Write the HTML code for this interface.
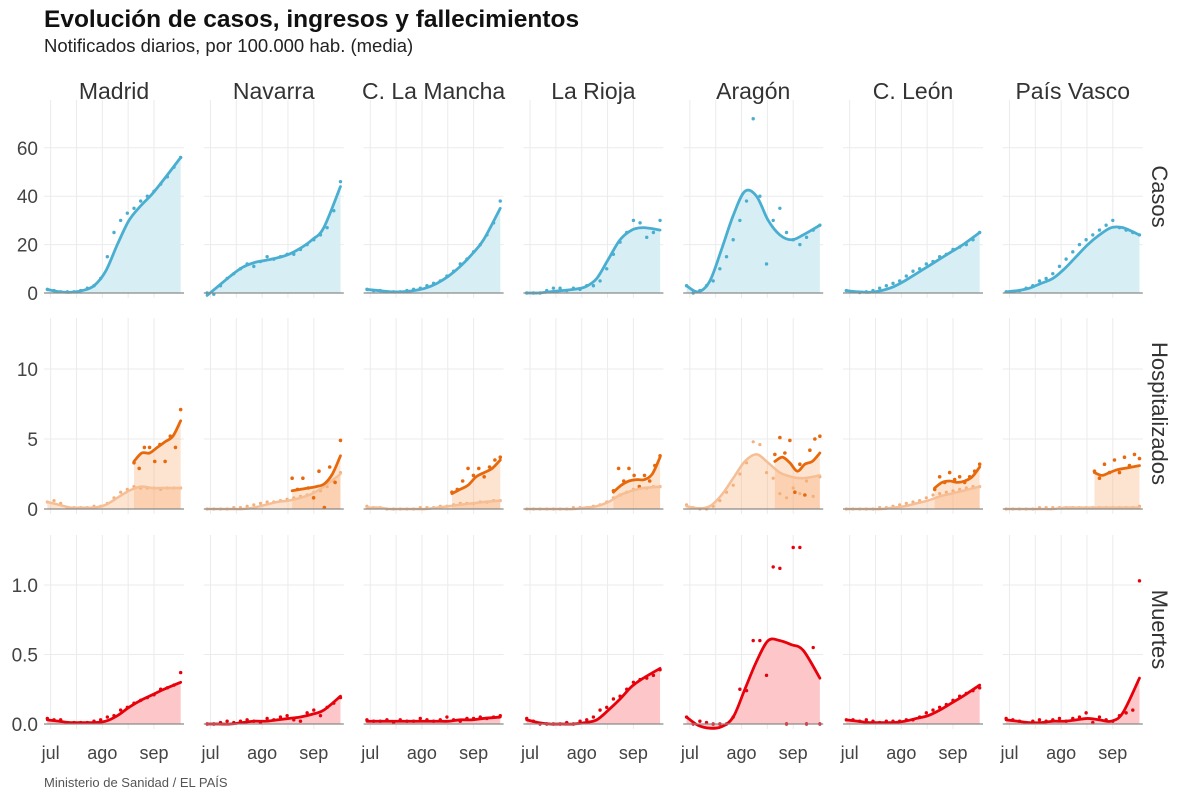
<!DOCTYPE html>
<html><head><meta charset="utf-8"><style>
body{margin:0;background:#fff;}
svg{display:block;font-family:"Liberation Sans",sans-serif;}
</style></head><body>
<svg id="chart" width="1200" height="800" viewBox="0 0 1200 800">
<text x="44" y="27" font-size="24.5" font-weight="bold" fill="#111">Evolución de casos, ingresos y fallecimientos</text>
<text x="44" y="52" font-size="18.5" fill="#222">Notificados diarios, por 100.000 hab. (media)</text>
<text x="44" y="787" font-size="13" fill="#555">Ministerio de Sanidad / EL PAÍS</text>
<g id="plot"></g>
</svg>
<script>
const regions = ["Madrid","Navarra","C. La Mancha","La Rioja","Aragón","C. León","País Vasco"];
const smoothDays = [-2,5,12,19,26,33,40,47,54,61,68,78];
const dotDays = [-2,2,6,10,14,18,22,26,30,34,38,42,46,50,54,58,62,66,70,74,78];
const monthTicks = [0,31,62];
const monthLabels = ["jul","ago","sep"];
const rowNames = ["Casos","Hospitalizados","Muertes"];
const casosTicks = [0,20,40,60];
const hospTicks = [0,5,10];
const muertesTicks = [0,0.5,1.0];
const muertesTickLabels = ["0.0","0.5","1.0"];

const casosSmooth = [
 [1.5,0.5,0.3,1,3,9,20,30,36,41,47,56],
 [-1,3,7,10.5,12.5,13.5,14.5,16,18.5,22,27,44],
 [1.5,1,0.5,0.5,1,2,4,7,11,16,22,35],
 [0,0,0.5,1,1.5,2.5,6,14,22,26,27,26],
 [3,0.5,5,18,32,42,40,30,24,22,24,28],
 [1,0.5,0.3,1,2.5,5,8,11,14,17,20,25],
 [0.5,1,2,4,6,10,15,20,24,27,27,24]];
const casosDots = [
 [1.5,1,0.5,0.5,0.5,1,2,3,6,15,25,30,33,35,38,40,42,45,48,52,56],
 [0,-0.5,3,6,8,10,12,11,13,15,14,15,16,16,18,20,22,24,27,34,46],
 [1.5,1,1,0.5,0.5,0.5,1,1.5,2,3,4,5,7,9,12,14,17,20,24,29,38],
 [0,0,0,1,2,2,1,2,1.5,3,3,5,10,16,21,25,30,29,23,25,30],
 [3,0,1,3,5,10,15,22,30,38,72,40,12,30,35,25,22,20,23,26,28],
 [1,0.5,0.2,0.5,1,2,3,4,5,7,9,10,12,13,15,16,18,19,20,22,25],
 [0.5,0.5,1,2,3,5,6,8,11,14,17,20,22,24,26,28,30,27,26,25,24]];
const hospLightSmooth = [
 [0.5,0.3,0.1,0.1,0.1,0.3,0.8,1.3,1.6,1.5,1.5,1.5],
 [0,0,0,0,0.1,0.3,0.5,0.6,0.8,1.1,1.6,2.5],
 [0.1,0.1,0,0,0,0,0.1,0.2,0.3,0.4,0.5,0.6],
 [0,0,0,0,0,0.1,0.2,0.5,1,1.3,1.5,1.6],
 [0.2,0.05,0.2,1.0,2.2,3.4,3.9,3.3,2.6,2.3,2.2,2.4],
 [0,0,0,0,0.1,0.2,0.4,0.6,0.9,1.1,1.3,1.6],
 [0,0,0,0,0,0.1,0.1,0.1,0.1,0.1,0.1,0.1]];
const hospLightDots = [
 [0.5,0.6,0.4,0.1,0.1,0.1,0.1,0.2,0.2,0.4,0.8,1.2,1.4,1.6,1.5,1.5,1.5,1.4,1.5,1.5,1.5],
 [0,0,0,0,0.1,0.1,0.2,0.3,0.4,0.5,0.5,0.6,0.7,0.8,0.9,1.0,1.2,1.3,1.6,2,2.6],
 [0.2,0.1,0.1,0,0,0,0,0,0.1,0.1,0.1,0.2,0.2,0.3,0.4,0.4,0.4,0.5,0.5,0.6,0.6],
 [0,0,0,0,0,0,0,0.1,0.1,0.1,0.2,0.3,0.5,0.8,1,1.2,1.4,1.5,1.5,1.6,1.6],
 [0.3,0.1,0,0,0.2,0.6,1.2,1.7,2.5,3.3,4.8,4.6,2.6,2.2,1.1,0.8,1.5,1.1,2.0,0.9,2.3],
 [0,0,0,0,0,0.1,0.1,0.2,0.3,0.4,0.5,0.6,0.8,1,1.1,1.2,1.3,1.4,1.5,1.6,1.6],
 [0,0,0,0,0,0.1,0.1,0.1,0.1,0.1,0.1,0.1,0.1,0.1,0.1,0.1,0.1,0.1,0.1,0.1,0.2]];
const hospDarkStart = [50,49,49,50,51,51,51];
const hospDarkSmooth = [
 [3.4,4.0,4.0,4.4,4.8,5.2,6.3],
 [1.3,1.4,1.5,1.6,1.8,2.5,3.8],
 [1.1,1.4,1.7,2.3,2.6,2.9,3.5],
 [1.2,1.7,2.0,2.1,2.1,2.5,3.7],
 [3.4,3.7,3.3,2.7,3.2,3.4,4.0],
 [1.5,1.9,2.0,1.9,2.0,2.3,3.0],
 [2.6,2.4,2.6,2.8,2.9,3.0,3.1]];
const hospDarkDots = [
 [3.3,2.9,4.4,4.4,3.4,4.6,3.4,5.2,4.4,7.1],
 [2.2,1.4,2.2,1.5,0.8,2.7,0.1,3.0,1.9,4.9],
 [1.2,1.4,2.0,2.9,2.4,2.9,2.3,3.0,3.5,3.7],
 [1.3,2.9,2.0,2.9,2.4,1.6,2.4,2.0,3.1,3.8],
 [3.9,5.1,4.0,4.9,1.2,3.2,1.0,4.2,5.0,5.2],
 [1.4,2.3,1.9,2.6,2.1,2.3,1.9,2.3,2.7,3.2],
 [2.7,2.2,3.2,2.6,3.5,2.6,3.7,3.1,3.9,3.6]];
const muertesSmooth = [
 [0.03,0.02,0.01,0.01,0.01,0.02,0.06,0.12,0.17,0.21,0.25,0.30],
 [0,0,0,0.01,0.02,0.02,0.03,0.04,0.05,0.07,0.1,0.2],
 [0.02,0.02,0.02,0.02,0.02,0.02,0.02,0.02,0.03,0.03,0.04,0.05],
 [0.03,0.01,0,0,0,0.01,0.03,0.1,0.18,0.27,0.33,0.4],
 [0.05,-0.01,-0.03,-0.02,0.05,0.25,0.45,0.6,0.6,0.57,0.53,0.33],
 [0.03,0.02,0.01,0.01,0.01,0.02,0.04,0.06,0.1,0.15,0.2,0.28],
 [0.03,0.02,0.01,0.01,0.02,0.02,0.03,0.04,0.03,0.02,0.08,0.33]];
const muertesDots = [
 [0.04,0.03,0.03,0.01,0.01,0.01,0.01,0.02,0.03,0.05,0.06,0.1,0.12,0.15,0.17,0.19,0.21,0.25,0.26,0.28,0.37],
 [0,0,0.01,0.02,0.01,0.02,0.03,0.02,0.01,0.04,0.03,0.05,0.06,0.03,0.02,0.08,0.1,0.06,0.12,0.15,0.19],
 [0.03,0.02,0.02,0.03,0.01,0.03,0.02,0.02,0.04,0.03,0.02,0.03,0.05,0.03,0.02,0.04,0.04,0.05,0.04,0.05,0.06],
 [0.04,0.02,0,0,0,0,0.01,0,0.02,0.03,0.05,0.1,0.12,0.18,0.2,0.25,0.3,0.32,0.33,0.35,0.39],
 [0.05,0,0.02,0.01,0,0,0,0.05,0.25,0.24,0.6,0.6,0.35,1.13,1.12,0.0,1.27,1.27,0,0.55,0],
 [0.03,0.03,0.02,0.03,0.02,0.01,0.02,0.02,0.02,0.03,0.03,0.05,0.08,0.1,0.12,0.14,0.17,0.2,0.22,0.24,0.26],
 [0.04,0.03,0.02,0.01,0.02,0.03,0.02,0.03,0.04,0.02,0.04,0.05,0.08,0.01,0.05,0.03,0.02,0.06,0.08,0.1,1.03]];

const NS="http://www.w3.org/2000/svg";
const plot=document.getElementById('plot');
const panelW=140, colStep=159.8, col0=44;
const dayMin=-4, dayMax=80;
const rowsGeo=[{top:100,zero:293,k:2.42},{top:318,zero:509,k:14},{top:535,zero:724,k:139}];
function xs(c,d){return col0+c*colStep+(d-dayMin)/(dayMax-dayMin)*panelW;}
function ys(r,v){return rowsGeo[r].zero-v*rowsGeo[r].k;}
function mk(tag,attrs,parent){const e=document.createElementNS(NS,tag);for(const a in attrs)e.setAttribute(a,attrs[a]);(parent||plot).appendChild(e);return e;}
function smoothPath(pts){let d="M"+pts[0][0]+","+pts[0][1];
 for(let i=0;i<pts.length-1;i++){const p0=pts[Math.max(0,i-1)],p1=pts[i],p2=pts[i+1],p3=pts[Math.min(pts.length-1,i+2)];
  const c1=[p1[0]+(p2[0]-p0[0])/6,p1[1]+(p2[1]-p0[1])/6],c2=[p2[0]-(p3[0]-p1[0])/6,p2[1]-(p3[1]-p1[1])/6];
  d+=" C"+c1[0]+","+c1[1]+" "+c2[0]+","+c2[1]+" "+p2[0]+","+p2[1];}
 return d;}
function series(c,r,days,vals,lineColor,fillColor,fillOp,width,name){
 const pts=days.map((d,i)=>[xs(c,d),ys(r,vals[i])]);
 const lp=smoothPath(pts);
 const a=mk('path',{d:lp+" L"+pts[pts.length-1][0]+","+rowsGeo[r].zero+" L"+pts[0][0]+","+rowsGeo[r].zero+" Z",fill:fillColor,'fill-opacity':fillOp});
 
 
 return pts;}
function line(c,r,days,vals,color,width,name){
 const pts=days.map((d,i)=>[xs(c,d),ys(r,vals[i])]);
 const l=mk('path',{d:smoothPath(pts),fill:'none',stroke:color,'stroke-width':width,'stroke-linecap':'round'});
 
 }
function dots(c,r,days,vals,color,rad,name){
 days.forEach((d,i)=>{const e=mk('circle',{cx:xs(c,d),cy:ys(r,vals[i]),r:rad,fill:color});
  
  });}
function darkDays(c,n){const s=hospDarkStart[c];const out=[];for(let i=0;i<n;i++)out.push(s+(78-s)*i/(n-1));return out;}

regions.forEach((reg,c)=>{
 const x0=col0+c*colStep;
 const t=mk('text',{x:x0+panelW/2,y:99,'font-size':23,fill:'#333','text-anchor':'middle'});t.textContent=reg;
 
 
 rowsGeo.forEach((g,r)=>{
  const bottom=g.zero+5;
  for(let d=0;d<=76;d+=15.5){const gx=xs(c,d);const gl=mk('line',{x1:gx,x2:gx,y1:g.top,y2:bottom,stroke:'#ebebeb','stroke-width':1});
   
   }
  const ticks=r===0?casosTicks:r===1?hospTicks:muertesTicks;
  ticks.forEach(v=>{const gy=ys(r,v);const hl=mk('line',{x1:x0,x2:x0+panelW,y1:gy,y2:gy,stroke:'#ebebeb','stroke-width':1});
   
   });
 });
 monthTicks.forEach((d,i)=>{const tl=mk('text',{x:xs(c,d),y:759,'font-size':18,fill:'#444','text-anchor':'middle'});tl.textContent=monthLabels[i];
  
  });
});
[casosTicks,hospTicks,muertesTicks].forEach((ticks,r)=>{ticks.forEach((v,i)=>{
 const t=mk('text',{x:38,y:ys(r,v)+7,'font-size':19,fill:'#444','text-anchor':'end'});
 t.textContent=r===2?muertesTickLabels[i]:String(v);
 
 });});
rowNames.forEach((n,r)=>{const cy=(rowsGeo[r].top+rowsGeo[r].zero)/2;
 const t=mk('text',{x:1152,y:cy,'font-size':22,fill:'#333','text-anchor':'middle',transform:'rotate(90 1152 '+cy+')'});t.textContent=n;
 
 });

regions.forEach((reg,c)=>{
 series(c,0,smoothDays,casosSmooth[c],'#4aaed1','#d7eef5',1,0,'casos');
 dots(c,0,dotDays,casosDots[c],'#4aaed1',1.7,'casos');
 line(c,0,smoothDays,casosSmooth[c],'#4aaed1',2.8,'casos');
 const dd=darkDays(c,7);
 series(c,1,smoothDays,hospLightSmooth[c],'#f6b88a','#f7a566',0.3,0,'hosp-light');
 series(c,1,dd,hospDarkSmooth[c],'#e8690c','#f7a566',0.3,0,'hosp-dark');
 dots(c,1,dotDays,hospLightDots[c],'#f4b07c',1.6,'hosp-light');
 dots(c,1,darkDays(c,10),hospDarkDots[c],'#e8690c',1.8,'hosp-dark');
 line(c,1,smoothDays,hospLightSmooth[c],'#f6be95',2.5,'hosp-light');
 line(c,1,dd,hospDarkSmooth[c],'#e8690c',2.8,'hosp-dark');
 series(c,2,smoothDays,muertesSmooth[c],'#e8000b','#fdc6c9',1,0,'muertes');
 dots(c,2,dotDays,muertesDots[c],'#e8000b',1.7,'muertes');
 line(c,2,smoothDays,muertesSmooth[c],'#e8000b',2.8,'muertes');
 rowsGeo.forEach((g,r)=>{const b=mk('line',{x1:col0+c*colStep,x2:col0+c*colStep+panelW,y1:g.zero,y2:g.zero,stroke:'#8a8a8a','stroke-width':1.2});
  
  });
});
</script>
</body></html>
